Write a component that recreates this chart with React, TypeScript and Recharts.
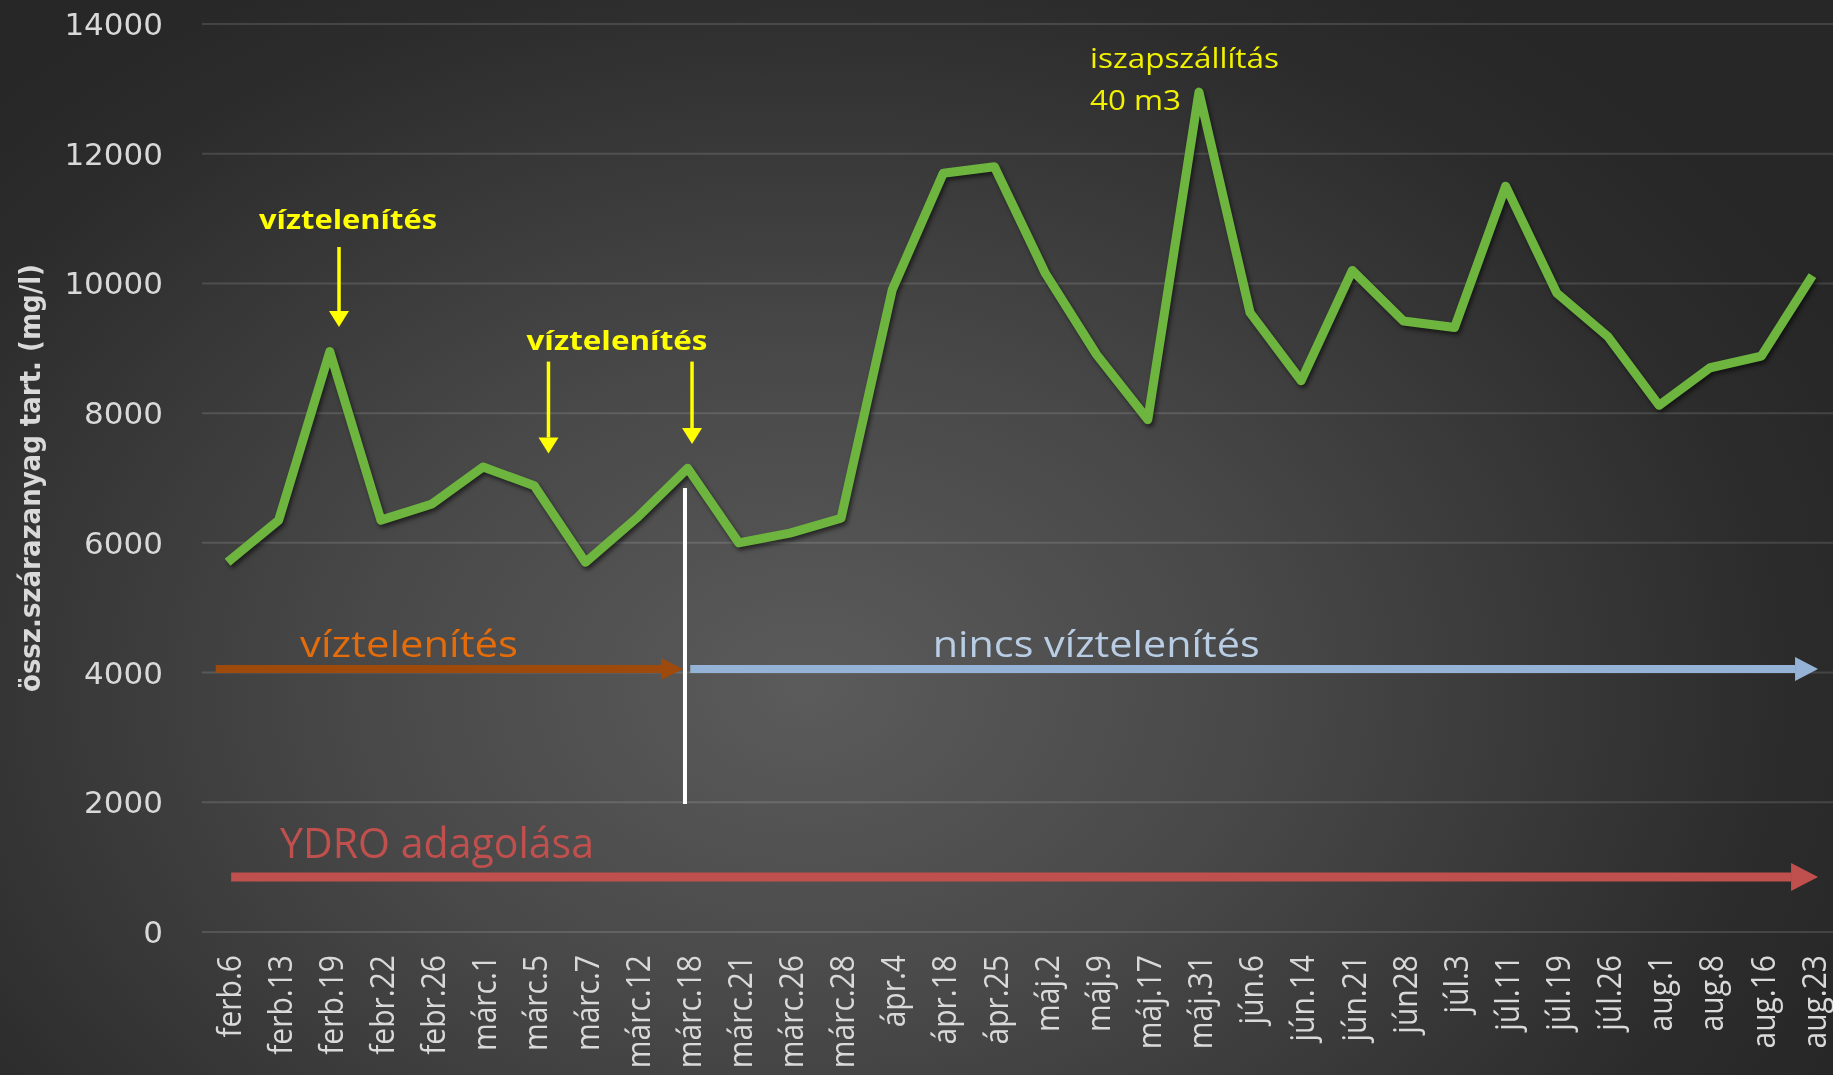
import React from 'react';
import { LineChart, Line, XAxis, YAxis, CartesianGrid, ReferenceLine, ReferenceDot } from 'recharts';

const categories = [
    'ferb.6', 'ferb.13', 'ferb.19', 'febr.22', 'febr.26', 'márc.1', 'márc.5', 'márc.7',
    'márc.12', 'márc.18', 'márc.21', 'márc.26', 'márc.28', 'ápr.4', 'ápr.18', 'ápr.25',
    'máj.2', 'máj.9', 'máj.17', 'máj.31', 'jún.6', 'jún.14', 'jún.21', 'jún28',
    'júl.3', 'júl.11', 'júl.19', 'júl.26', 'aug.1', 'aug.8', 'aug.16', 'aug.23',
];

const values = [
    5700, 6350, 8950, 6350, 6600, 7170, 6880, 5700,
    6380, 7150, 6000, 6150, 6380, 9900, 11700, 11800,
    10150, 8900, 7900, 12950, 9550, 8500, 10200, 9420,
    9320, 11500, 9850, 9180, 8120, 8700, 8880, 10120,
];

const yTicks = [0, 2000, 4000, 6000, 8000, 10000, 12000, 14000];

// annotations, x in category-index units (hidden numeric axis), y in mg/l
const yellowNotes = [
    { text: 'víztelenítés', x: 2.856, y: 10839, len: 178 },
    { text: 'víztelenítés', x: 8.117, y: 8974, len: 181 },
];
const yellowArrows = [
    { x: 2.68, from: 10562, to: 9328 },
    { x: 6.777, from: 8795, to: 7378 },
    { x: 9.585, from: 8795, to: 7524 },
];
const phaseArrows = [
    { from: 0.27, to: 9.41, y: 4055, color: '#9e4a0c', w: 8, head: 22, half: 11 },
    { from: 9.55, to: 31.61, y: 4055, color: '#95b3d7', w: 8, head: 23, half: 12 },
    { from: 0.57, to: 31.61, y: 848, color: '#c0504d', w: 9, head: 27, half: 14 },
];
const phaseLabels = [
    { text: 'víztelenítés', x: 4.049, y: 4240, len: 218, size: 36, color: '#e46c0a' },
    { text: 'nincs víztelenítés', x: 17.49, y: 4240, len: 327, size: 36, color: '#b9cde5' },
    { text: 'YDRO adagolása', x: 4.597, y: 1141, len: 314, size: 42, color: '#c0504d' },
];
const sludgeNote = ['iszapszállítás', '40 m3'];
const sludgeLines = [
    { x: 17.37, y: 13322, len: 189 },
    { x: 17.37, y: 12675, len: 91 },
];

const data = categories.map((label, i) => ({ label, pos: i + 0.5, value: values[i] }));

const arrowShape = (w: number, head: number, half: number, color: string) => (p: any) => {
    const { x1, y1, x2, y2 } = p;
    const len = Math.hypot(x2 - x1, y2 - y1) || 1;
    const dx = (x2 - x1) / len;
    const dy = (y2 - y1) / len;
    const bx = x2 - dx * head;
    const by = y2 - dy * head;
    return (
        <g>
            <line x1={x1} y1={y1} x2={bx} y2={by} stroke={color} strokeWidth={w} />
            <polygon
                points={`${x2},${y2} ${bx - dy * half},${by + dx * half} ${bx + dy * half},${by - dx * half}`}
                fill={color}
            />
        </g>
    );
};

const XTick = (props: any) => {
    const { x, y, payload } = props;
    return (
        <text
            x={0}
            y={0}
            transform={`translate(${x}, ${y}) scale(1.12, 1) rotate(-90)`}
            textAnchor="end"
            dominantBaseline="central"
            fill="#d9d9d9"
            fontSize={30}
            fontFamily="'Open Sans', sans-serif"
        >
            {payload.value}
        </text>
    );
};

const App = () => {
    return (
        <div
            style={{
                position: 'fixed',
                left: 0,
                top: 0,
                width: 1833,
                height: 1075,
                overflow: 'hidden',
                background: 'radial-gradient(ellipse 62% 78% at 44% 64%, #5b5b5b 0%, #484848 40%, #2c2c2c 85%, #272727 100%)',
            }}
        >
            <style>{`.recharts-line-curve { filter: drop-shadow(2px 3px 2px rgba(0,0,0,0.55)); }`}</style>
            <LineChart width={1838} height={1075} data={data} margin={{ top: 24, right: 0, bottom: 0, left: 0 }}>
                <CartesianGrid vertical={false} stroke="rgba(255,255,255,0.13)" strokeWidth={2} />
                <XAxis
                    dataKey="label"
                    interval={0}
                    padding={{ left: 25.56, right: 25.56 }}
                    axisLine={false}
                    tickLine={false}
                    tickSize={0}
                    tickMargin={23}
                    height={143}
                    tick={<XTick />}
                />
                <XAxis xAxisId="num" dataKey="pos" type="number" domain={[0, 32]} allowDataOverflow hide />
                <YAxis
                    width={202}
                    domain={[0, 14000]}
                    ticks={yTicks}
                    interval={0}
                    axisLine={false}
                    tickLine={false}
                    tickSize={0}
                    tickMargin={39}
                    tick={{ fill: '#d9d9d9', fontSize: 31, fontFamily: "'DejaVu Sans', sans-serif" }}
                    label={{
                        content: (props: any) => {
                            const vb = props.viewBox || { x: 0, y: 24, height: 908 };
                            const cx = vb.x + 30;
                            const cy = vb.y + vb.height / 2;
                            return (
                                <text
                                    x={cx}
                                    y={cy}
                                    transform={`rotate(-90, ${cx}, ${cy})`}
                                    textAnchor="middle"
                                    dominantBaseline="central"
                                    fill="#d9d9d9"
                                    fontSize={28}
                                    fontWeight="bold"
                                    fontFamily="'Liberation Sans Narrow', 'DejaVu Sans Condensed', 'Open Sans', sans-serif"
                                    textLength={428}
                                    lengthAdjust="spacingAndGlyphs"
                                >
                                    össz.szárazanyag tart. (mg/l)
                                </text>
                            );
                        },
                    }}
                />

                {phaseArrows.map((a, i) => (
                    <ReferenceLine
                        key={`pa${i}`}
                        xAxisId="num"
                        ifOverflow="visible"
                        segment={[{ x: a.from, y: a.y }, { x: a.to, y: a.y }]}
                        shape={arrowShape(a.w, a.head, a.half, a.color)}
                    />
                ))}

                <ReferenceLine
                    xAxisId="num"
                    segment={[{ x: 9.447, y: 6846 }, { x: 9.447, y: 1974 }]}
                    stroke="#ffffff"
                    strokeWidth={4}
                />

                <Line
                    type="linear"
                    dataKey="value"
                    stroke="#6db53f"
                    strokeWidth={9}
                    strokeLinejoin="round"
                    dot={false}
                    activeDot={false}
                    isAnimationActive={false}
                />

                {yellowArrows.map((a, i) => (
                    <ReferenceLine
                        key={`ya${i}`}
                        xAxisId="num"
                        segment={[{ x: a.x, y: a.from }, { x: a.x, y: a.to }]}
                        shape={arrowShape(3.5, 16, 10, '#ffff00')}
                    />
                ))}

                {yellowNotes.map((n, i) => (
                    <ReferenceDot
                        key={`yn${i}`}
                        xAxisId="num"
                        x={n.x}
                        y={n.y}
                        r={0}
                        shape={(p: any) => (
                            <text
                                x={p.cx}
                                y={p.cy}
                                textAnchor="middle"
                                fill="#ffff00"
                                fontSize={27}
                                fontWeight="bold"
                                fontFamily="'Open Sans', sans-serif"
                                textLength={n.len}
                                lengthAdjust="spacingAndGlyphs"
                            >
                                {n.text}
                            </text>
                        )}
                    />
                ))}

                {phaseLabels.map((n, i) => (
                    <ReferenceDot
                        key={`pl${i}`}
                        xAxisId="num"
                        x={n.x}
                        y={n.y}
                        r={0}
                        shape={(p: any) => (
                            <text
                                x={p.cx}
                                y={p.cy}
                                textAnchor="middle"
                                fill={n.color}
                                fontSize={n.size}
                                fontFamily="'Open Sans', sans-serif"
                                textLength={n.len}
                                lengthAdjust="spacingAndGlyphs"
                            >
                                {n.text}
                            </text>
                        )}
                    />
                ))}

                {sludgeLines.map((n, i) => (
                    <ReferenceDot
                        key={`sl${i}`}
                        xAxisId="num"
                        x={n.x}
                        y={n.y}
                        r={0}
                        shape={(p: any) => (
                            <text
                                x={p.cx}
                                y={p.cy}
                                textAnchor="start"
                                fill="#f2f200"
                                fontSize={28}
                                fontFamily="'Open Sans', sans-serif"
                                textLength={n.len}
                                lengthAdjust="spacingAndGlyphs"
                            >
                                {sludgeNote[i]}
                            </text>
                        )}
                    />
                ))}
            </LineChart>
        </div>
    );
};

export default App;
